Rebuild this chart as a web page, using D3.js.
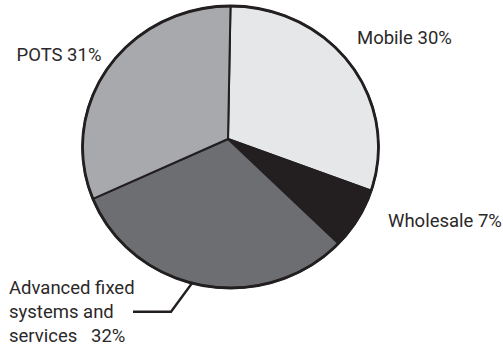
<!DOCTYPE html>
<html>
<head>
<meta charset="utf-8">
<script src="https://cdn.jsdelivr.net/npm/d3@7"></script>
<style>
  html, body { margin: 0; padding: 0; background: #ffffff; }
  svg { display: block; }
  text { font-family: Roboto, "Liberation Sans", sans-serif; font-weight: 400; fill: #2b2829; }
</style>
</head>
<body>
<svg id="chart" width="503" height="348"></svg>
<script>
// Revenue mix by business line (percent of total)
const categories = ["Mobile", "Wholesale", "Advanced fixed systems and services", "POTS"];
const shares = [30, 7, 32, 31];
// Label text, one entry per line
const labelLines = [
  ["Mobile 30%"],
  ["Wholesale 7%"],
  ["Advanced fixed", "systems and", "services\u00a0\u00a0 32%"],
  ["POTS 31%"]
];

const svg = d3.select("#chart");

// Oval pie: outline centre and radii, plus the point where the slices meet
const cx = 230.5, cy = 147, rx = 148, ry = 141;
const hub = [228, 139];

const color = d3.scaleOrdinal()
  .domain(categories)
  .range(["#e6e7e8", "#231f20", "#6d6e71", "#a7a9ac"]);

const pie = d3.pie().sort(null).value(d => d.v).startAngle(0).endAngle(2 * Math.PI);
const data = pie(categories.map((c, i) => ({ c, v: shares[i] })));

// point on the oval outline at a pie angle (0 = 12 o'clock, clockwise)
const onEdge = a => [cx + rx * Math.sin(a), cy - ry * Math.cos(a)];

function slicePath(d) {
  const p0 = onEdge(d.startAngle), p1 = onEdge(d.endAngle);
  const large = (d.endAngle - d.startAngle) > Math.PI ? 1 : 0;
  return `M${hub[0]},${hub[1]}L${p0[0]},${p0[1]}A${rx},${ry} 0 ${large} 1 ${p1[0]},${p1[1]}Z`;
}

svg.append("g")
  .selectAll("path")
  .data(data)
  .join("path")
  .attr("d", slicePath)
  .attr("fill", d => color(d.data.c))
  .attr("stroke", "#231f20")
  .attr("stroke-width", 2)
  .attr("stroke-linejoin", "round");

// outer rim
svg.append("ellipse")
  .attr("cx", cx).attr("cy", cy).attr("rx", rx).attr("ry", ry)
  .attr("fill", "none")
  .attr("stroke", "#231f20")
  .attr("stroke-width", 2.8);

// leader from the Advanced slice down to its label
const leadEnd = onEdge(195 * Math.PI / 180);
svg.append("path")
  .attr("d", d3.line()([[133, 311.7], [171, 311.7], [leadEnd[0] + 0.5, leadEnd[1] - 1]]))
  .attr("fill", "none")
  .attr("stroke", "#231f20")
  .attr("stroke-width", 2.4)
  .attr("stroke-linejoin", "miter");

// label anchors (left x, first baseline)
const labelPos = {
  "Mobile": [357, 44],
  "Wholesale": [388, 227],
  "Advanced fixed systems and services": [9, 294.3],
  "POTS": [16.5, 60.5]
};
const lineGap = 23.7;

const labels = svg.append("g").selectAll("text")
  .data(data)
  .join("text")
  .attr("font-size", 18.5)
  .attr("x", d => labelPos[d.data.c][0])
  .attr("y", d => labelPos[d.data.c][1]);

labels.selectAll("tspan")
  .data(d => labelLines[d.index].map(t => ({ t, x: labelPos[d.data.c][0] })))
  .join("tspan")
  .attr("x", d => d.x)
  .attr("dy", (d, i) => i === 0 ? 0 : lineGap)
  .text(d => d.t);
</script>
</body>
</html>
